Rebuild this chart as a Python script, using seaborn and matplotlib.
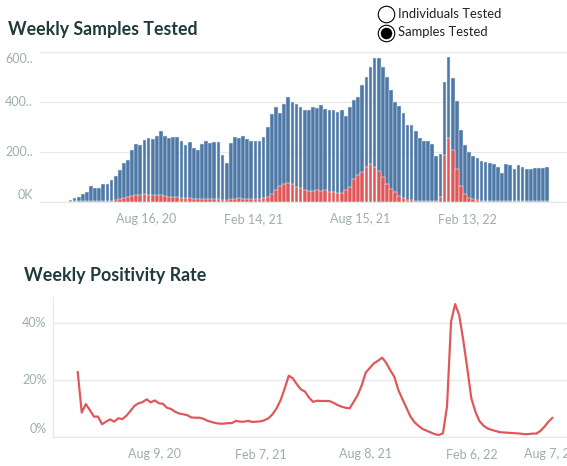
import numpy as np
import pandas as pd
import matplotlib
matplotlib.use("Agg")
import matplotlib.pyplot as plt
import matplotlib.transforms as mtransforms
from matplotlib.lines import Line2D
import seaborn as sns

# ---------------- data ----------------
# weekly samples tested (thousands), weeks starting 2020-04-05
samples_k = [8, 16, 20, 31, 40, 64, 56, 56, 71, 71,
             85, 101, 126, 153, 165, 207, 232, 227, 247, 254,
             250, 263, 282, 263, 254, 258, 258, 242, 227, 238,
             213, 207, 231, 242, 236, 239, 239, 187, 154, 236,
             258, 254, 263, 250, 242, 242, 244, 259, 299, 352,
             380, 356, 392, 420, 399, 392, 380, 368, 368, 380,
             376, 388, 372, 365, 365, 358, 365, 342, 378, 407,
             420, 466, 500, 539, 573, 573, 539, 498, 446, 400,
             383, 354, 308, 308, 284, 255, 244, 244, 230, 183,
             190, 477, 578, 496, 401, 288, 227, 199, 183, 176,
             164, 158, 156, 150, 140, 116, 150, 147, 130, 145,
             140, 132, 132, 133, 133, 135, 140]
# weekly positive samples (thousands)
positives_k = [1, 1, 1, 1, 1, 2, 2, 2, 2, 3,
               3, 5, 12, 16, 19, 23, 25, 25, 30, 25,
               25, 25, 25, 23, 17, 17, 17, 13, 13, 13,
               9, 9, 9, 9, 9, 9, 9, 7, 7, 9,
               9, 13, 9, 9, 9, 9, 9, 13, 19, 30,
               47, 62, 70, 74, 70, 59, 56, 47, 43, 43,
               47, 43, 47, 39, 37, 34, 35, 45, 60, 90,
               106, 119, 137, 150, 140, 124, 98, 70, 50, 37,
               21, 13, 8, 5, 4, 2, 2, 2, 2, 3,
               20, 185, 256, 206, 131, 61, 32, 13, 11, 7,
               4, 3, 2, 2, 2, 2, 2, 2, 2, 2,
               2, 2, 2, 2, 3, 4, 4]
top_start = "2020-04-05"

# weekly positivity rate (%), weeks from 2020-03-29
positivity_pct = [22.9, 8.5, 11.5, 9.4, 7.1, 7.1, 4.4, 5.3, 6.1, 5.3,
                  6.5, 6.2, 7.4, 9.1, 10.9, 11.8, 12.2, 13.2, 12.1, 12.8,
                  11.8, 11.6, 10.2, 9.8, 8.8, 8.2, 7.9, 7.6, 6.8, 6.7,
                  6.7, 6.3, 5.6, 5.2, 4.8, 4.6, 4.6, 4.8, 4.8, 5.6,
                  5.3, 5.3, 5.6, 5.2, 5.3, 5.4, 5.8, 6.5, 7.9, 10.0,
                  12.9, 17.0, 21.5, 20.6, 18.5, 16.7, 15.9, 13.8, 12.3, 12.7,
                  12.6, 12.6, 12.6, 12.0, 11.2, 10.6, 10.2, 10.0, 12.3, 14.7,
                  18.2, 22.7, 24.3, 25.9, 26.8, 27.9, 26.1, 23.5, 21.2, 16.5,
                  13.3, 10.2, 7.1, 5.1, 3.8, 2.7, 2.1, 1.5, 0.9, 0.6,
                  1.2, 10.6, 40.6, 46.8, 42.9, 34.1, 24.1, 13.5, 8.8, 5.5,
                  3.9, 2.9, 2.4, 2.0, 1.6, 1.5, 1.4, 1.3, 1.2, 1.1,
                  0.9, 0.9, 1.1, 1.1, 2.0, 3.5, 5.3, 6.7]
line_start = "2020-03-29"

top_tick_dates = ["2020-08-16", "2021-02-14", "2021-08-15", "2022-02-13"]
top_tick_labels = ["Aug 16, 20", "Feb 14, 21", "Aug 15, 21", "Feb 13, 22"]
bot_tick_dates = ["2020-08-09", "2021-02-07", "2021-08-08", "2022-02-06", "2022-08-07"]
bot_tick_labels = ["Aug 9, 20", "Feb 7, 21", "Aug 8, 21", "Feb 6, 22", "Aug 7, 22"]
top_y_ticks = [0, 200, 400, 600]
top_y_labels = ["0K", "200..", "400..", "600.."]
bot_y_ticks = [0, 20, 40]
bot_y_labels = ["0%", "20%", "40%"]
legend_labels = ["Individuals Tested", "Samples Tested"]

# ---------------- style ----------------
sns.set_style("white")
plt.rcParams["font.family"] = ["Lato", "DejaVu Sans"]
BLUE = "#4e79a7"
RED = "#e15759"
TITLE_C = "#1f3a3a"
TICK_C = "#9fadad"
GRID_C = "#e8e8e8"

W, H = 567, 466
fig = plt.figure(figsize=(W / 100, H / 100), dpi=100)


def rect(l, t, r, b):
    return [l / W, 1 - b / H, (r - l) / W, (b - t) / H]


def px(p):
    return p * 72 / 100.0


def weeks_from(start, dates):
    s = pd.Timestamp(start)
    return [(pd.Timestamp(d) - s).days / 7.0 for d in dates]


# ---------------- top chart ----------------
ax1 = fig.add_axes(rect(40, 45, 567, 201.7))
df1 = pd.DataFrame({
    "week": np.arange(len(samples_k)) + 0.5,
    "samples": samples_k,
    "positives": positives_k,
})
sns.barplot(data=df1, x="week", y="samples", native_scale=True, color=BLUE,
            saturation=1, width=0.9, edgecolor="#dfe7f0", linewidth=0.35,
            errorbar=None, ax=ax1, zorder=2)
sns.barplot(data=df1, x="week", y="positives", native_scale=True, color=RED,
            saturation=1, width=0.9, edgecolor="white", linewidth=0.35,
            errorbar=None, ax=ax1, zorder=3)
ax1.set_xlim(-6.91, 121.3)
ax1.set_ylim(0, 627)
ax1.set_xlabel("")
ax1.set_ylabel("")
ax1.set_xticks(weeks_from(top_start, top_tick_dates))
ax1.set_xticklabels(top_tick_labels)
ax1.set_yticks(top_y_ticks)
ax1.set_yticklabels([])
ax1.tick_params(axis="both", length=0)
ax1.tick_params(axis="x", pad=px(11), labelsize=px(12.5), labelcolor=TICK_C)
ax1.grid(axis="y", color=GRID_C, linewidth=px(1.2), zorder=0)
ax1.set_axisbelow(True)
for s in ["top", "right", "left"]:
    ax1.spines[s].set_visible(False)
ax1.spines["bottom"].set_color(GRID_C)
ax1.spines["bottom"].set_linewidth(px(1.2))
ytr1 = mtransforms.blended_transform_factory(ax1.transAxes, ax1.transData)
for v, lab in zip(top_y_ticks, top_y_labels):
    dy = 0
    if v == top_y_ticks[0]:
        dy = 6.7
    elif v == top_y_ticks[-1]:
        dy = -7.5
    off = mtransforms.ScaledTranslation(-7 / 100, dy / 100, fig.dpi_scale_trans)
    ax1.text(0, v, lab, transform=ytr1 + off, ha="right", va="center",
             fontsize=px(12.5), color=TICK_C)

fig.text(8 / W, 1 - 29 / H, "Weekly Samples Tested", ha="left", va="center",
         fontsize=px(17.8), fontweight="bold", color=TITLE_C)

# legend (radio buttons)
lx = 386 / W
for k, (lab, yy) in enumerate(zip(legend_labels, [14, 32.5])):
    fy = 1 - yy / H
    fig.add_artist(Line2D([lx], [fy], marker="o", markersize=px(16.5),
                          markerfacecolor="white", markeredgecolor="black",
                          markeredgewidth=0.8, transform=fig.transFigure))
    if k == 1:
        fig.add_artist(Line2D([lx], [fy], marker="o", markersize=px(11.5),
                              markerfacecolor="black", markeredgecolor="black",
                              markeredgewidth=0, transform=fig.transFigure))
    fig.text(398 / W, fy, lab, ha="left", va="center", fontsize=px(13),
             color="#222222")

# ---------------- bottom chart ----------------
ax2 = fig.add_axes(rect(53.3, 296.7, 578.9, 436.7))
df2 = pd.DataFrame({
    "week": np.arange(len(positivity_pct)),
    "positivity": positivity_pct,
})
sns.lineplot(data=df2, x="week", y="positivity", color=RED, linewidth=px(2.2),
             ax=ax2, zorder=3)
ax2.set_xlim(-6.01, 123.5)
ax2.set_ylim(0, 49.4)
ax2.set_xlabel("")
ax2.set_ylabel("")
ax2.set_xticks(weeks_from(line_start, bot_tick_dates))
ax2.set_xticklabels(bot_tick_labels)
ax2.set_yticks(bot_y_ticks)
ax2.set_yticklabels([])
ax2.tick_params(axis="both", length=0)
ax2.tick_params(axis="x", pad=px(11), labelsize=px(12.5), labelcolor=TICK_C)
ax2.get_xticklabels()[-1].set_horizontalalignment("right")
ax2.grid(axis="y", color=GRID_C, linewidth=px(1.2), zorder=0)
ax2.set_axisbelow(True)
for s in ["top", "right"]:
    ax2.spines[s].set_visible(False)
for s in ["left", "bottom"]:
    ax2.spines[s].set_color(GRID_C)
    ax2.spines[s].set_linewidth(px(1.2))
ytr2 = mtransforms.blended_transform_factory(ax2.transAxes, ax2.transData)
for v, lab in zip(bot_y_ticks, bot_y_labels):
    dy = 7.5 if v == bot_y_ticks[0] else 0
    off = mtransforms.ScaledTranslation(-7 / 100, dy / 100, fig.dpi_scale_trans)
    ax2.text(0, v, lab, transform=ytr2 + off, ha="right", va="center",
             fontsize=px(12.5), color=TICK_C)

fig.text(24 / W, 1 - 276 / H, "Weekly Positivity Rate", ha="left", va="center",
         fontsize=px(17.9), fontweight="bold", color=TITLE_C)

fig.savefig("out.png", dpi=100)
